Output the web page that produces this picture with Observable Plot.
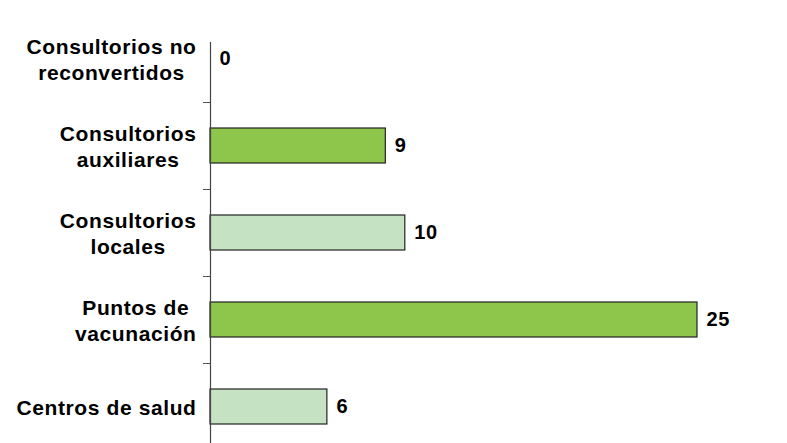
<!DOCTYPE html>
<html>
<head>
<meta charset="utf-8">
<script src="https://cdn.jsdelivr.net/npm/d3@7"></script>
<script src="https://cdn.jsdelivr.net/npm/@observablehq/plot@0.6"></script>
<style>
  html, body { margin: 0; padding: 0; background: #fff; }
  #chart svg { display: block; }
</style>
</head>
<body>
<div id="chart"></div>
<script>
// Data
const categories = [
  "Consultorios no\nreconvertidos",
  "Consultorios\nauxiliares",
  "Consultorios\nlocales",
  "Puntos de\nvacunación",
  "Centros de salud"
];
const values = [0, 9, 10, 25, 6];

// Styles
const darkGreen = "#8DC64A";
const lightGreen = "#C5E3C3";
const fontFamily = "'Liberation Sans', Arial, sans-serif";
const letterSpacing = 0.6;

const data = categories.map((c, i) => ({cat: c, value: values[i], fill: i % 2 === 1 ? darkGreen : lightGreen}));

const W = 787, H = 443, ML = 210, MR = 90;

// measure label widths to center lines within a right-aligned block
const ctx = document.createElement("canvas").getContext("2d");
ctx.font = `bold 21px ${fontFamily}`;
function blockWidth(s) {
  return d3.max(s.split("\n"), l => ctx.measureText(l).width + l.length * letterSpacing);
}
const labelRight = 196;

const labelMarks = data.map(d => {
  const w = blockWidth(d.cat);
  return Plot.text([d], {
    y: "cat", text: "cat", frameAnchor: "left", textAnchor: "middle",
    dx: (labelRight - w / 2) - ML, lineHeight: 1.24,
    fontSize: 21, fontWeight: "bold", fill: "#000"
  });
});

const chart = Plot.plot({
  width: W, height: H,
  marginLeft: ML, marginRight: MR, marginTop: 42, marginBottom: 0,
  style: {fontFamily: fontFamily, background: "#fff", letterSpacing: letterSpacing + "px"},
  x: {domain: [0, 25], axis: null},
  y: {domain: categories, range: [14.5, 449.5], paddingInner: 0.6, paddingOuter: 0.3, axis: null},
  marks: [
    Plot.barX(data.filter(d => d.value > 0), {x: "value", y: "cat", fill: "fill", stroke: "#222", strokeWidth: 1.2}),
    Plot.axisY({ticks: categories.slice(0, 4), tickSize: 7, dy: 43.5, tickFormat: () => "", label: null, stroke: "#555"}),
    Plot.ruleX([0], {stroke: "#444", strokeWidth: 1.2}),
    Plot.text(data, {x: "value", y: "cat", text: d => String(d.value), textAnchor: "start", dx: 9, fontSize: 20, fontWeight: "bold", fill: "#000"}),
    ...labelMarks
  ]
});
document.getElementById("chart").appendChild(chart);
</script>
</body>
</html>
